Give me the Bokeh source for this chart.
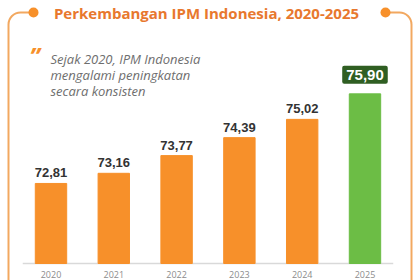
from bokeh.plotting import figure
from bokeh.models import ColumnDataSource, Range1d, BoxAnnotation, Label
from bokeh.core.properties import value
from bokeh.embed import file_html
from bokeh.resources import INLINE

# ---- data ----
years = ["2020", "2021", "2022", "2023", "2024", "2025"]
ipm = [72.81, 73.16, 73.77, 74.39, 75.02, 75.90]
highlight_year = "2025"
title_text = "Perkembangan IPM Indonesia, 2020-2025"
quote_lines = ["Sejak 2020, IPM Indonesia", "mengalami peningkatan", "secara konsisten"]

ORANGE = "#F7902A"
GREEN = "#6CBD45"
DARK_GREEN = "#2F5E22"
TITLE_ORANGE = "#E8782E"
BORDER = "#F2A860"

idx = list(range(len(years)))
labels = [f"{v:.2f}".replace(".", ",") for v in ipm]
colors = [GREEN if y == highlight_year else ORANGE for y in years]
base = 70.05
PX_PER_UNIT = 29.0
H = 280
BASE_PX = 263  # canvas y of the baseline

src = ColumnDataSource(dict(x=idx, top=ipm, color=colors, label=labels, year=years,
                            base=[base] * len(idx)))
norm = [i for i, y in enumerate(years) if y != highlight_year]
hi = [i for i, y in enumerate(years) if y == highlight_year]
src_n = ColumnDataSource(dict(x=[idx[i] for i in norm], top=[ipm[i] for i in norm],
                              label=[labels[i] for i in norm]))
src_h = ColumnDataSource(dict(x=[idx[i] for i in hi], top=[ipm[i] for i in hi],
                              label=[labels[i] for i in hi]))

p = figure(width=420, height=H, output_backend="svg", toolbar_location=None,
           x_range=Range1d(-0.804, 5.884),
           y_range=Range1d(base - (H - BASE_PX) / PX_PER_UNIT, base + BASE_PX / PX_PER_UNIT),
           min_border_left=0, min_border_right=0, min_border_top=0, min_border_bottom=0)
p.outline_line_color = None
p.background_fill_color = "white"
p.border_fill_color = "white"
p.xgrid.visible = False
p.ygrid.visible = False
p.xaxis.visible = False
p.yaxis.visible = False

# frame decoration (screen units, measured from frame bottom)
def sy(canvas_y):
    return H - canvas_y

p.add_layout(BoxAnnotation(left=8, right=411, top=sy(12), bottom=sy(300),
                           left_units="screen", right_units="screen",
                           top_units="screen", bottom_units="screen",
                           fill_color="white", fill_alpha=0.0,
                           line_color=BORDER, line_width=2, line_alpha=1.0,
                           border_radius=12, level="underlay"))
p.add_layout(BoxAnnotation(left=36, right=382, top=sy(4), bottom=sy(20),
                           left_units="screen", right_units="screen",
                           top_units="screen", bottom_units="screen",
                           fill_color="white", fill_alpha=1, line_color=None,
                           level="underlay"))
for cx in (33, 385):
    p.add_layout(BoxAnnotation(left=cx - 5, right=cx + 5, top=sy(7), bottom=sy(17),
                               left_units="screen", right_units="screen",
                               top_units="screen", bottom_units="screen",
                               fill_color=ORANGE, fill_alpha=1, line_color=None,
                               border_radius=5))

# baseline
p.segment(x0=[idx[0] - 0.45], x1=[idx[-1] + 0.45], y0=[base], y1=[base],
          line_color="#d9d9d9", line_width=1.5)

p.vbar(x="x", top="top", bottom=base, width=0.5, color="color", source=src)

# year (category) labels under the baseline
p.text(x="x", y="base", text="year", source=src, y_offset=7,
       text_align="center", text_baseline="top",
       text_font=value("Open Sans"), text_font_size="9px", text_color="#8c8c8c")

p.text(x="x", y="top", text="label", source=src_n, y_offset=-6,
       text_align="center", text_baseline="bottom",
       text_font=value("Liberation Sans"), text_font_style="bold",
       text_font_size="13px", text_color="#333333")
p.text(x="x", y="top", text="label", source=src_h, y_offset=-10,
       text_align="center", text_baseline="bottom",
       text_font=value("Liberation Sans"), text_font_style="bold",
       text_font_size="15px", text_color="white",
       background_fill_color=DARK_GREEN, padding=4, border_radius=2)

p.add_layout(Label(x=206, y=sy(12), x_units="screen", y_units="screen",
                   text=title_text, text_align="center", text_baseline="middle",
                   text_font="Open Sans", text_font_style="bold",
                   text_font_size="15px", text_color=TITLE_ORANGE))

p.add_layout(Label(x=29, y=sy(38), x_units="screen", y_units="screen",
                   text="\u201D", text_align="left", text_baseline="top",
                   text_font="Open Sans", text_font_style="bold italic",
                   text_font_size="24px", text_color=ORANGE))

for k, line in enumerate(quote_lines):
    p.add_layout(Label(x=50, y=sy(58 + 16 * k), x_units="screen", y_units="screen",
                       text=line, text_align="left", text_baseline="middle",
                       text_font="Open Sans", text_font_style="italic",
                       text_font_size="13px", text_color="#6e6e6e"))

with open("out.html", "w") as f:
    f.write(file_html(p, INLINE))
